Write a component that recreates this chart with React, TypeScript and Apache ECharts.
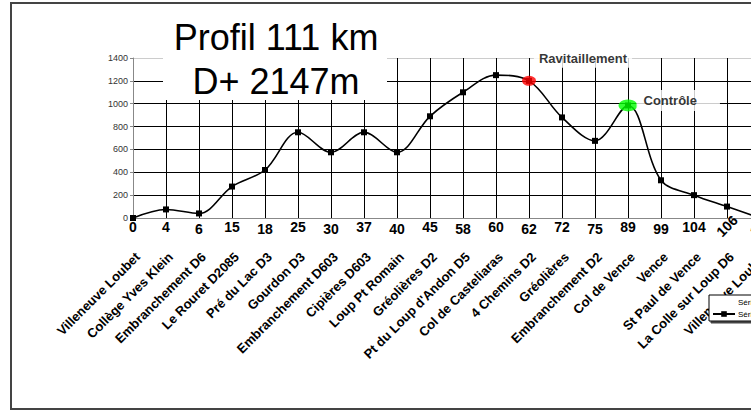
import React, { useEffect, useRef } from "react";
import * as echarts from "echarts";

const kmLabels = ["0", "4", "6", "15", "18", "25", "30", "37", "40", "45", "58", "60", "62", "72", "75", "89", "99", "104", "106", "111"];
const placeNames = [
  "Villeneuve Loubet", "Collège Yves Klein", "Embranchement D6", "Le Rouret D2085", "Pré du Lac D3",
  "Gourdon D3", "Embranchement D603", "Cipières D603", "Loup Pt Romain", "Gréolières D2",
  "Pt du Loup d'Andon D5", "Col de Casteliaras", "4 Chemins D2", "Gréolières", "Embranchement D2",
  "Col de Vence", "Vence", "St Paul de Vence", "La Colle sur Loup D6", "Villeneuve Loubet",
];
const altitudes = [0, 75, 40, 275, 420, 750, 575, 750, 575, 890, 1100, 1250, 1200, 880, 675, 985, 330, 200, 100, 0];
const pointNames = ["", "", "", "", "", "", "", "", "", "", "", "", "Ravitaillement", "", "", "Contrôle", "", "", "", ""];
const pointColors = ["", "", "", "", "", "", "", "", "", "", "", "", "#ff0000", "", "", "#00ff00", "", "", "", ""];
const yTicks = [0, 200, 400, 600, 800, 1000, 1200, 1400];
const titleLines = ["Profil 111 km", "D+ 2147m"];

const FONT = "Arial, 'Liberation Sans', sans-serif";

export default function App() {
  const ref = useRef<HTMLDivElement>(null);
  useEffect(() => {
    if (!ref.current) return;
    const chart = echarts.init(ref.current, undefined, { renderer: "svg" });

    const pointData = altitudes.map((v, i) => {
      if (!pointNames[i]) return null;
      const isRavi = pointNames[i] === "Ravitaillement";
      return {
        value: v,
        name: pointNames[i],
        symbolSize: isRavi ? [14, 10] : [19, 12],
        itemStyle: { color: pointColors[i] },
        label: isRavi
          ? { position: "top", offset: [54, -3], padding: [3, 5, 3, 5] }
          : { position: "right", distance: 1, offset: [-2, -5], padding: [4, 23, 4, 7] },
      };
    });

    const splitColorsY = yTicks.map((_, i) => (i === 0 ? "#888" : i === yTicks.length - 1 ? "#ccc" : "#000"));
    const splitColorsX = kmLabels.map((_, i) => (i === 0 ? "#888" : "#000"));
    const kmStyle = { fontSize: 14, fontWeight: "bold", color: "#000", fontFamily: FONT };

    chart.setOption({
      animation: false,
      backgroundColor: "#fff",
      textStyle: { fontFamily: FONT },
      grid: { left: 133, top: 58, width: 627, height: 160, containLabel: false },
      xAxis: [
        {
          type: "category",
          data: kmLabels,
          boundaryGap: false,
          axisLine: { show: true, lineStyle: { color: "#888", width: 1 } },
          axisTick: { show: false },
          splitLine: { show: true, lineStyle: { color: splitColorsX, width: 1 } },
          axisLabel: {
            interval: 0,
            margin: 1,
            verticalAlign: "top",
            ...kmStyle,
            rich: {
              hi: { ...kmStyle, lineHeight: 16 },
              lo: { ...kmStyle, lineHeight: 20 },
            },
            formatter: (v: string, i: number) =>
              i >= 18 ? "" : i > 0 && i % 2 === 0 ? `{lo|${v}}` : `{hi|${v}}`,
          },
        },
        {
          type: "category",
          data: kmLabels,
          boundaryGap: false,
          position: "bottom",
          axisLine: { show: false },
          axisTick: { show: false },
          splitLine: { show: false },
          axisLabel: {
            interval: 0,
            rotate: 45,
            align: "center",
            verticalAlign: "middle",
            margin: 8,
            ...kmStyle,
            formatter: (v: string, i: number) => (i >= 18 ? v : ""),
          },
        },
        {
          type: "category",
          data: placeNames.map((n, i) => n + "\u200b".repeat(i)),
          boundaryGap: false,
          position: "bottom",
          axisLine: { show: false },
          axisTick: { show: false },
          splitLine: { show: false },
          axisLabel: {
            interval: 0,
            rotate: 45,
            verticalAlign: "top",
            margin: 32,
            fontSize: 13,
            fontWeight: "bold",
            color: "#000",
            fontFamily: FONT,
            formatter: (v: string) => v.replace(/\u200b/g, ""),
          },
        },
      ],
      yAxis: {
        type: "value",
        min: 0,
        max: 1400,
        interval: 200,
        axisLine: { show: true, lineStyle: { color: "#888", width: 1 } },
        axisTick: { show: true, length: 3, lineStyle: { color: "#888" } },
        splitLine: { show: true, lineStyle: { color: splitColorsY, width: 1 } },
        axisLabel: { fontSize: 9, color: "#333", margin: 5, fontFamily: FONT, formatter: (v: number) => String(v) },
      },
      legend: {
        orient: "vertical",
        left: 709,
        top: 295,
        padding: [3, 4, 3, 3],
        itemGap: 4,
        itemWidth: 22,
        itemHeight: 7,
        borderColor: "#000",
        borderWidth: 1,
        borderRadius: 0,
        backgroundColor: "#fff",
        shadowColor: "#444",
        shadowOffsetX: 2,
        shadowOffsetY: 2,
        shadowBlur: 0,
        textStyle: { fontSize: 8, color: "#000", padding: [0, 0, 0, -2], fontFamily: FONT },
        data: [
          { name: "Série1", icon: "none" },
          { name: "Série2" },
        ],
        z: 20,
      },
      series: [
        {
          name: "Série2",
          type: "line",
          xAxisIndex: 0,
          data: altitudes,
          smooth: 0.35,
          symbol: "rect",
          symbolSize: 6,
          showSymbol: true,
          itemStyle: { color: "#000" },
          lineStyle: { color: "#000", width: 1.6 },
          emphasis: { disabled: true },
          z: 3,
        },
        {
          name: "Série1",
          type: "scatter",
          xAxisIndex: 0,
          data: pointData,
          symbol: "circle",
          itemStyle: { color: "#000" },
          emphasis: { disabled: true },
          label: {
            show: true,
            formatter: (p: any) => p.name,
            fontSize: 13,
            fontWeight: "bold",
            color: "#000",
            backgroundColor: "#fff",
            fontFamily: FONT,
          },
          z: 4,
        },
      ],
      graphic: [
        {
          type: "rect",
          z: 50,
          shape: { x: 163, y: 8, width: 224, height: 92 },
          style: { fill: "#fff" },
        },
        {
          type: "text",
          z: 51,
          x: 276,
          y: 37,
          style: { text: titleLines[0], fontSize: 36, fontFamily: FONT, fill: "#000", textAlign: "center", textVerticalAlign: "middle" },
        },
        {
          type: "text",
          z: 51,
          x: 276,
          y: 81,
          style: { text: titleLines[1], fontSize: 36, fontFamily: FONT, fill: "#000", textAlign: "center", textVerticalAlign: "middle" },
        },
        {
          type: "rect",
          z: 60,
          shape: { x: 11, y: 3, width: 840, height: 406 },
          style: { fill: "none", stroke: "#444", lineWidth: 2 },
        },
      ],
    });
    return () => chart.dispose();
  }, []);
  return (
    <div style={{ position: "absolute", left: 0, top: 0, width: 751, height: 410, overflow: "hidden" }}>
      <div ref={ref} style={{ width: 800, height: 410 }} />
    </div>
  );
}
